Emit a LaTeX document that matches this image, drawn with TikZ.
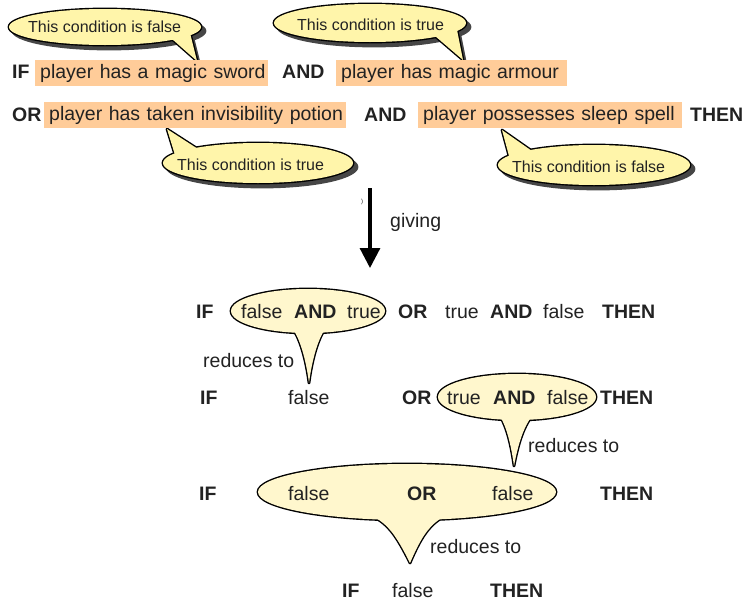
\documentclass[tikz,border=0pt]{standalone}
\usepackage{fontspec}
\setmainfont{Liberation Sans}
\usetikzlibrary{arrows.meta}
\definecolor{hlc}{RGB}{255,204,153}
\definecolor{upfill}{RGB}{255,245,170}
\definecolor{lowfill}{RGB}{255,247,205}
\definecolor{shc}{RGB}{70,70,70}
\definecolor{ink}{RGB}{34,34,34}
% callout with shadow: #1 centre, #2 rx, #3 ry, #4 pointer path (open)
\newcommand\ShCallout[4]{%
  \begin{scope}[shift={(4,4)}]
    \fill[shc] #1 ellipse[x radius=#2+1.4, y radius=#3+1.4];
    \fill[shc] #4 -- cycle;
  \end{scope}
  \draw[outl] #1 ellipse[x radius=#2, y radius=#3];
  \draw[outl] #4 -- cycle;
  \fill[upfill] #1 ellipse[x radius=#2, y radius=#3];
  \fill[upfill] #4 -- cycle;}
% callout without shadow
\newcommand\CvCallout[4]{%
  \draw[outl] #1 ellipse[x radius=#2, y radius=#3];
  \draw[outl] #4 -- cycle;
  \fill[lowfill] #1 ellipse[x radius=#2, y radius=#3];
  \fill[lowfill] #4 -- cycle;}
\tikzset{
  outl/.style={draw=black, line width=2.8pt, line join=round},
  lbl/.style={inner sep=0pt, anchor=base west, text=ink, font=\fontsize{19.5}{22}\selectfont},
  kw/.style={inner sep=0pt, anchor=base west, text=ink, font=\fontsize{19.5}{22}\selectfont\bfseries},
  btxt/.style={inner sep=0pt, anchor=base west, text=ink, font=\fontsize{16}{19}\selectfont},
  hl/.style={fill=hlc, anchor=north west, inner xsep=5pt, inner ysep=4pt,
    text height=14pt, text depth=4pt, align=left, text=ink,
    font=\fontsize{19.5}{22}\selectfont},
}
\begin{document}
\begin{tikzpicture}[x=1pt,y=-1pt]
\useasboundingbox (0,0) rectangle (745,600);
% ---------- upper callouts ----------
\ShCallout{(105,27)}{96}{18}{(172,39) -- (197,61) -- (190,33)}
\ShCallout{(370,23)}{96}{19}{(435,36) -- (463,60) -- (457,30)}
\ShCallout{(258,163)}{95}{20}{(175,155) -- (167,129) -- (198,149)}
\ShCallout{(594,165)}{96}{20}{(509,156) -- (502,130) -- (532,151)}
\node[btxt] (t1) at (28,32) {This condition is false};
\node[btxt] (t2) at (297,30) {This condition is true};
\node[btxt] (t3) at (177,170) {This condition is true};
\node[btxt] (t4) at (512,172) {This condition is false};
% ---------- condition rows ----------
\node[kw] (if1) at (12,78) {IF};
\node[hl, text width=223pt] (c1) at (35,60) {\mbox{player has a magic sword}};
\node[kw] (and1) at (282,78) {AND};
\node[hl, text width=221pt] (c2) at (336,60) {\mbox{player has magic armour}};
\node[kw] (or1) at (12,121) {OR};
\node[hl, text width=292pt] (c3) at (44,102) {\mbox{player has taken invisibility potion}};
\node[kw] (and2) at (364,121) {AND};
\node[hl, text width=254pt] (c4) at (418,102) {\mbox{player possesses sleep spell}};
\node[kw] (then1) at (690,121) {THEN};
% ---------- arrow ----------
\coordinate (arrS) at (370,188);
\coordinate (arrE) at (370,268);
\draw[line width=3.2pt, -{Triangle[width=20pt,length=20pt]}] (arrS) -- (arrE);
\node[inner sep=0pt, anchor=base west, text=ink, font=\fontsize{6}{7}\selectfont] (tick) at (361,203) {)};
\node[lbl] (giving) at (390,227) {giving};
% ---------- lower callouts ----------
\CvCallout{(407,492)}{149}{28}{(372,516) .. controls (388,524) and (396,535) .. (410,563) .. controls (420,540) and (428,525) .. (445,516)}
\CvCallout{(308,311)}{77}{22}{(292,328) .. controls (300,338) and (306,360) .. (309,383) .. controls (312,360) and (318,338) .. (326,328)}
\CvCallout{(517,397)}{79}{23}{(500,416) .. controls (507,428) and (511,445) .. (514,466) .. controls (518,445) and (523,428) .. (532,416)}
% row A
\node[kw] (ifA) at (196,318) {IF};
\node[lbl] (fA1) at (241,318) {false};
\node[kw] (andA1) at (294,318) {AND};
\node[lbl] (tA1) at (347,318) {true};
\node[kw] (orA) at (398,318) {OR};
\node[lbl] (tA2) at (445,318) {true};
\node[kw] (andA2) at (490,318) {AND};
\node[lbl] (fA2) at (543,318) {false};
\node[kw] (thenA) at (602,318) {THEN};
\node[lbl] (redA) at (203,367) {reduces to};
% row B
\node[kw] (ifB) at (200,404) {IF};
\node[lbl] (fB1) at (288,404) {false};
\node[kw] (orB) at (402,404) {OR};
\node[lbl] (tB) at (447,404) {true};
\node[kw] (andB) at (493,404) {AND};
\node[lbl] (fB2) at (547,404) {false};
\node[kw] (thenB) at (600,404) {THEN};
\node[lbl] (redB) at (528,452) {reduces to};
% row C
\node[kw] (ifC) at (199,500) {IF};
\node[lbl] (fC1) at (288,500) {false};
\node[kw] (orC) at (407,500) {OR};
\node[lbl] (fC2) at (492,500) {false};
\node[kw] (thenC) at (600,500) {THEN};
\node[lbl] (redC) at (430,553) {reduces to};
% row D
\node[kw] (ifD) at (342,597) {IF};
\node[lbl] (fD) at (392,597) {false};
\node[kw] (thenD) at (490,597) {THEN};
\end{tikzpicture}
\end{document}
